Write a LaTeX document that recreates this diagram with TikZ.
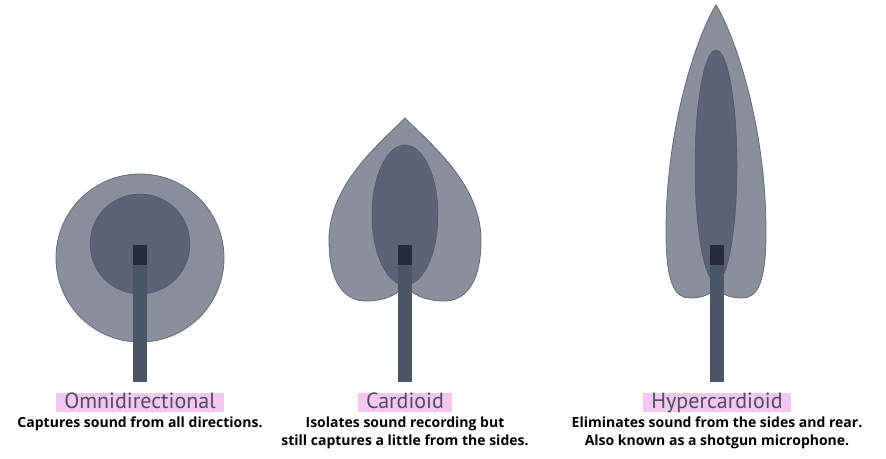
\documentclass[tikz,border=0pt]{standalone}
\usepackage{fontspec}
\setmainfont{PT Sans}
\newfontfamily\notefont{Open Sans}
\usepackage{tikz}
\usetikzlibrary{positioning}
\definecolor{lobeBack}{HTML}{8B8E9D}
\definecolor{lobeFrame}{HTML}{676A7A}
\definecolor{coreBack}{HTML}{5D6374}
\definecolor{stemGrey}{HTML}{4B5565}
\definecolor{capsuleDark}{HTML}{262A3A}
\definecolor{titleGrey}{HTML}{4E4E58}
\definecolor{markerPink}{HTML}{F4C6F0}

\begin{document}
\begin{tikzpicture}[x=1pt,y=-1pt,node distance=10pt]
  \tikzstyle{lobe}=[fill=lobeBack,draw=lobeFrame,line width=0.8pt]
  \tikzstyle{core}=[fill=coreBack,draw=coreBack!85!black,line width=0.5pt]
  \tikzstyle{stemBar}=[fill=stemGrey,inner sep=0pt,minimum width=14pt,minimum height=137pt]
  \tikzstyle{patternTitle}=[fill=markerPink,text=titleGrey,inner xsep=8pt,inner ysep=0pt,text height=15pt,text depth=4pt,font=\fontsize{22}{24}\selectfont]
  \tikzstyle{patternNote}=[align=center,inner sep=0pt,font=\notefont\fontsize{14}{18}\selectfont\bfseries]
  \useasboundingbox (0,0) rectangle (886,458);
  % omnidirectional
  \fill[lobe] (140,258) circle (84);
  \fill[core] (140,244) circle (50);
  \node[stemBar] (omniStem) at (140,313.5) {};
  \fill[capsuleDark] (omniStem.north west) rectangle ++(14,20);
  \node[patternTitle,below=11pt of omniStem] (omniTitle) {Omnidirectional};
  \node[patternNote,below=4pt of omniTitle] (omniNote) {Captures sound from all directions.};
  % cardioid
  \filldraw[lobe] (405,118) .. controls (432,145) and (481,185) .. (481,240)
    .. controls (481,288) and (462,301) .. (444,301) .. controls (425,301) and (411,294) .. (405,285)
    .. controls (399,294) and (385,301) .. (366,301) .. controls (348,301) and (329,288) .. (329,240)
    .. controls (329,185) and (378,145) .. (405,118) -- cycle;
  \filldraw[core] (405,215) ellipse (33 and 70);
  \node[stemBar] (cardStem) at (405,313.5) {};
  \fill[capsuleDark] (cardStem.north west) rectangle ++(14,20);
  \node[patternTitle,below=11pt of cardStem] (cardTitle) {Cardioid};
  \node[patternNote,below=4pt of cardTitle] (cardNote) {Isolates sound recording but\\still captures a little from the sides.};
  % hypercardioid
  \filldraw[lobe] (716,5) .. controls (732,30) and (766,120) .. (766,232)
    .. controls (766,284) and (757,298) .. (742,298) .. controls (728,298) and (720,293) .. (716,288)
    .. controls (712,293) and (704,298) .. (690,298) .. controls (675,298) and (666,284) .. (666,232)
    .. controls (666,120) and (700,30) .. (716,5) -- cycle;
  \filldraw[core] (716,166) ellipse (21 and 116);
  \node[stemBar] (hyperStem) at (717,313.5) {};
  \fill[capsuleDark] (hyperStem.north west) rectangle ++(14,20);
  \node[patternTitle,below=11pt of hyperStem] (hyperTitle) {Hypercardioid};
  \node[patternNote,below=4pt of hyperTitle] (hyperNote) {Eliminates sound from the sides and rear.\\Also known as a shotgun microphone.};
\end{tikzpicture}
\end{document}
